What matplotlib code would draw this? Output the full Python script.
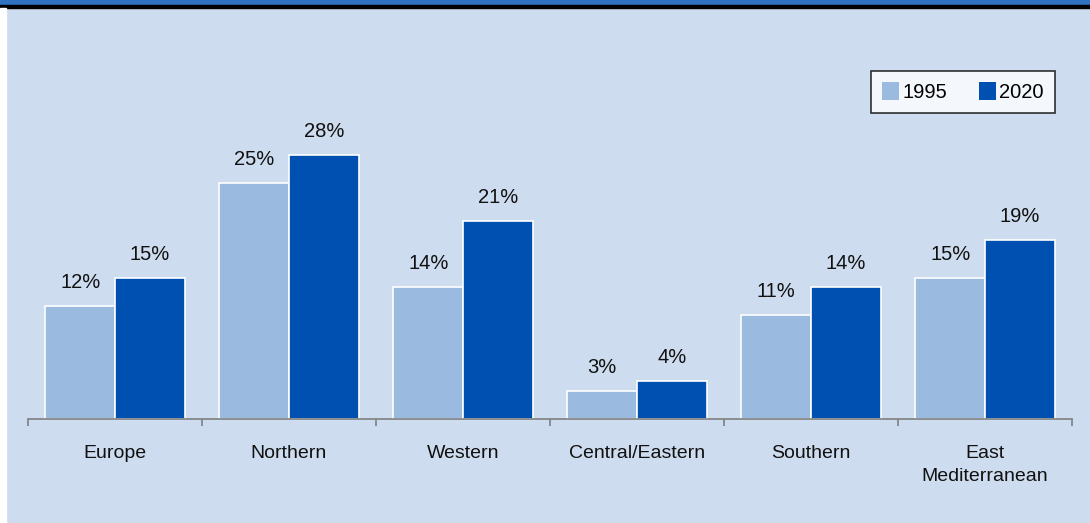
import matplotlib
matplotlib.use("Agg")
import matplotlib.pyplot as plt
from matplotlib.patches import Rectangle
import numpy as np

regions = ["Europe", "Northern", "Western", "Central/Eastern", "Southern", "East\nMediterranean"]
share_1995 = [12, 25, 14, 3, 11, 15]
share_2020 = [15, 28, 21, 4, 14, 19]
series_labels = ["1995", "2020"]

plt.rcParams["font.family"] = ["Liberation Sans Narrow", "Liberation Sans", "DejaVu Sans"]

bg = "#cddcee"
light = "#9bbae0"
dark = "#0050b2"

W, H = 1090, 523
fig = plt.figure(figsize=(W / 100, H / 100), dpi=100)
fig.patch.set_facecolor(bg)

# header band and left margin
fig.add_artist(Rectangle((0, 1 - 5 / H), 1, 5 / H, transform=fig.transFigure, color="#2f72c2", zorder=0))
fig.add_artist(Rectangle((0, 1 - 8 / H), 1, 3 / H, transform=fig.transFigure, color="#000000", zorder=0))
fig.add_artist(Rectangle((0, 0), 6 / W, 1 - 8 / H, transform=fig.transFigure, color="white", zorder=0))

left, right, base = 28, 1072, 419
ymax = 35
top = base - ymax * 9.43
ax = fig.add_axes([left / W, (H - base) / H, (right - left) / W, (base - top) / H])
ax.set_facecolor("none")

x = np.arange(len(regions))
bw = 0.4
b1 = ax.bar(x - bw / 2, share_1995, bw, color=light, edgecolor="white", linewidth=1.2, label=series_labels[0])
b2 = ax.bar(x + bw / 2, share_2020, bw, color=dark, edgecolor="white", linewidth=1.2, label=series_labels[1])

for bars, vals in ((b1, share_1995), (b2, share_2020)):
    for r, v in zip(bars, vals):
        ax.annotate(f"{v}%", (r.get_x() + r.get_width() / 2, v), xytext=(0, 10),
                    textcoords="offset points", ha="center", va="bottom", fontsize=14.5, color="#111111")

ax.set_xlim(-0.5, len(regions) - 0.5)
ax.set_ylim(0, ymax)
for s in ("top", "right", "left"):
    ax.spines[s].set_visible(False)
ax.spines["bottom"].set_color("#808080")
ax.spines["bottom"].set_linewidth(1.2)
ax.set_yticks([])
ax.set_xticks(np.arange(len(regions) + 1) - 0.5, minor=True)
ax.tick_params(axis="x", which="minor", length=5, color="#808080", width=1.2)
ax.set_xticks(x)
ax.set_xticklabels(regions, fontsize=14, color="#111111", linespacing=1.45)
ax.tick_params(axis="x", which="major", length=0, pad=19)

leg = fig.legend(handles=[b1, b2], labels=series_labels, loc="upper right",
                 bbox_to_anchor=(1055 / W, 1 - 71 / H), ncol=2, fontsize=14.5,
                 frameon=True, fancybox=False, edgecolor="#000000", facecolor="white",
                 handlelength=0.85, handleheight=1.0, handletextpad=0.15, columnspacing=1.6,
                 borderpad=0.55, borderaxespad=0)
leg.get_frame().set_linewidth(1.2)
for p in leg.get_patches():
    p.set_edgecolor("none")

fig.savefig("out.png", dpi=100, facecolor=bg)
